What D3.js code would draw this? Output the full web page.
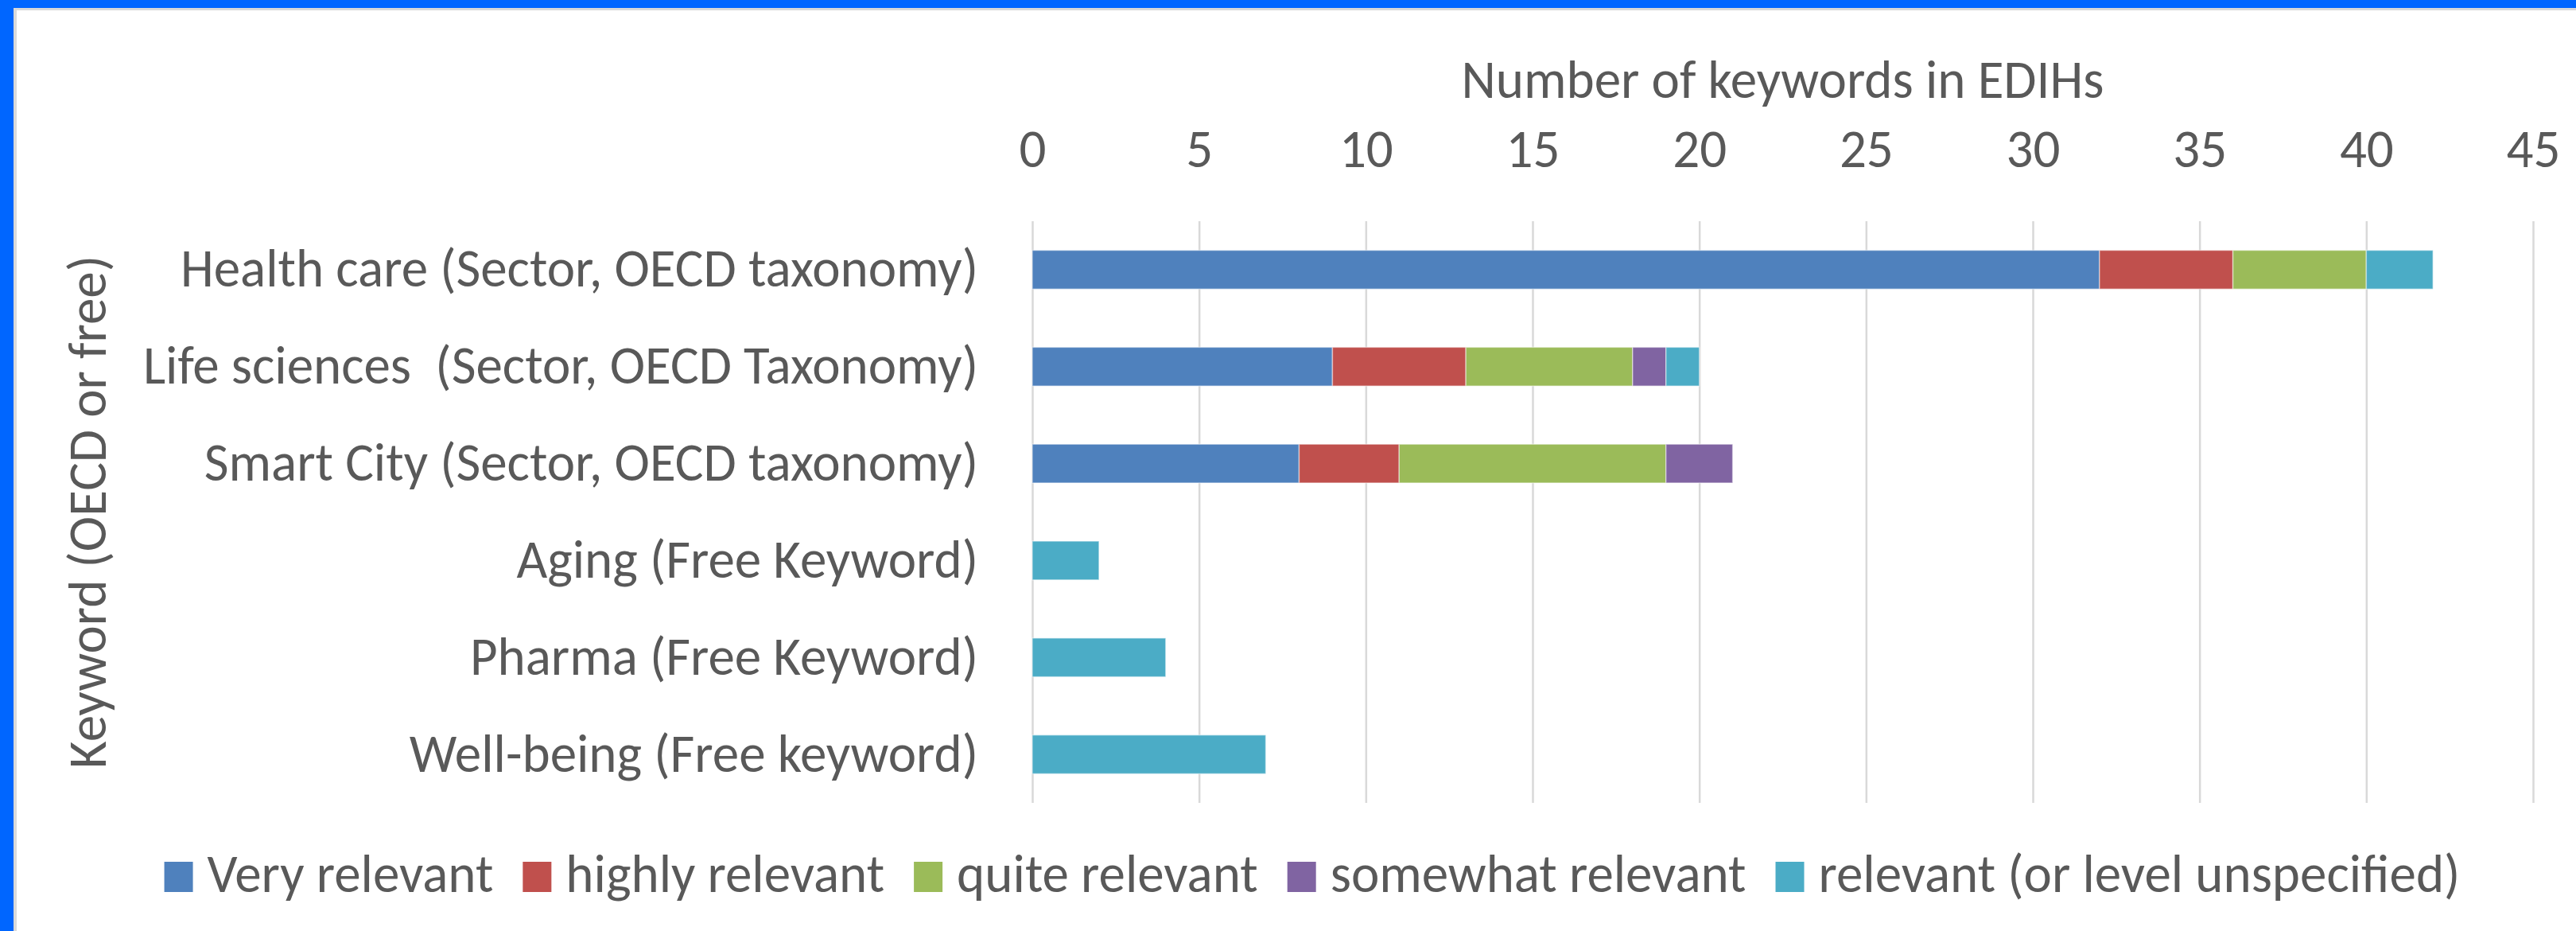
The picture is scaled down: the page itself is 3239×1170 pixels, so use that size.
<!DOCTYPE html>
<html>
<head>
<meta charset="utf-8">
<script src="https://cdn.jsdelivr.net/npm/d3@7"></script>
<style>
  body { margin: 0; background: #fff; }
  svg { display: block; }
  text { font-family: Carlito, Calibri, Lato, sans-serif; fill: #595959; white-space: pre; }
</style>
</head>
<body>
<script>
// chart data
var categories = [
  'Health care (Sector, OECD taxonomy)',
  'Life sciences  (Sector, OECD Taxonomy)',
  'Smart City (Sector, OECD taxonomy)',
  'Aging (Free Keyword)',
  'Pharma (Free Keyword)',
  'Well-being (Free keyword)'
];
var seriesNames = ['Very relevant', 'highly relevant', 'quite relevant', 'somewhat relevant', 'relevant (or level unspecified)'];
var veryRelevant        = [32, 9, 8, 0, 0, 0];
var highlyRelevant      = [4, 4, 3, 0, 0, 0];
var quiteRelevant       = [4, 5, 8, 0, 0, 0];
var somewhatRelevant    = [0, 1, 2, 0, 0, 0];
var relevantUnspecified = [2, 1, 0, 2, 4, 7];
var xTicks = [0, 5, 10, 15, 20, 25, 30, 35, 40, 45];
var xTitle = 'Number of keywords in EDIHs';
var yTitle = 'Keyword (OECD or free)';

var colors = ['#4F81BD', '#C0504D', '#9BBB59', '#8064A2', '#4BACC6'];

var W = 3239, H = 1170;
var fontSize = 67;
var plot = { left: 1298, right: 3185, top: 278, bottom: 1009 };

var svg = d3.select('body').append('svg').attr('width', W).attr('height', H);

// frame: blue edge, thin grey shadow, white chart area
svg.append('rect').attr('width', W).attr('height', H).attr('fill', '#0066FF');
svg.append('rect').attr('x', 17).attr('y', 10).attr('width', W).attr('height', H).attr('fill', '#D9D9D9');
svg.append('rect').attr('x', 21).attr('y', 13).attr('width', W).attr('height', H).attr('fill', '#FFFFFF');

var x = d3.scaleLinear().domain([0, 45]).range([plot.left, plot.right]);
var y = d3.scaleBand().domain(categories).range([plot.top, plot.bottom]).paddingInner(0.6).paddingOuter(0.3);

// rows for the stack
var rows = categories.map(function(c, i) {
  var r = { cat: c };
  r[seriesNames[0]] = veryRelevant[i];
  r[seriesNames[1]] = highlyRelevant[i];
  r[seriesNames[2]] = quiteRelevant[i];
  r[seriesNames[3]] = somewhatRelevant[i];
  r[seriesNames[4]] = relevantUnspecified[i];
  return r;
});
var stacked = d3.stack().keys(seriesNames)(rows);

// x axis on top with gridlines
var xAxis = d3.axisTop(x).tickValues(xTicks).tickSize(-(plot.bottom - plot.top)).tickPadding(68);
var gx = svg.append('g').attr('transform', 'translate(0,' + plot.top + ')').call(xAxis);
gx.select('.domain').remove();
gx.selectAll('line').attr('stroke', '#D9D9D9').attr('stroke-width', 2.5);
gx.selectAll('text').attr('font-size', fontSize).attr('fill', '#595959').attr('font-family', null);

// bars
svg.append('g').selectAll('g')
  .data(stacked)
  .enter().append('g')
  .attr('fill', function(d, i) { return colors[i]; })
  .selectAll('rect')
  .data(function(d) { return d.filter(function(p) { return p[1] > p[0]; }); })
  .enter().append('rect')
  .attr('x', function(d) { return x(d[0]); })
  .attr('width', function(d) { return x(d[1]) - x(d[0]); })
  .attr('y', function(d) { return y(d.data.cat); })
  .attr('height', y.bandwidth())
  .attr('stroke', 'rgba(255,255,255,0.45)')
  .attr('stroke-width', 1.5);

// category axis
var yAxis = d3.axisLeft(y).tickSize(0).tickPadding(68);
var gy = svg.append('g').attr('transform', 'translate(' + plot.left + ',0)').call(yAxis);
gy.select('.domain').remove();
gy.selectAll('text').attr('font-size', fontSize).attr('fill', '#595959').attr('font-family', null);

// axis titles
svg.append('text')
  .attr('x', (plot.left + plot.right) / 2).attr('y', 123)
  .attr('text-anchor', 'middle').attr('font-size', fontSize)
  .text(xTitle);

svg.append('text')
  .attr('transform', 'translate(133,' + (plot.top + plot.bottom) / 2 + ') rotate(-90)')
  .attr('text-anchor', 'middle').attr('font-size', fontSize)
  .text(yTitle);

// legend
var legend = svg.append('g');
var lx = 0, gap = 37;
seriesNames.forEach(function(name, i) {
  var item = legend.append('g').attr('transform', 'translate(' + lx + ',0)');
  item.append('rect').attr('x', 0).attr('y', 1083).attr('width', 36).attr('height', 38)
    .attr('fill', colors[i]);
  var t = item.append('text').attr('x', 54).attr('y', 1121).attr('font-size', fontSize).text(name);
  lx += 54 + t.node().getComputedTextLength() + gap;
});
var legendWidth = lx - gap;
legend.attr('transform', 'translate(' + (1650 - legendWidth / 2) + ',0)');
</script>
</body>
</html>
